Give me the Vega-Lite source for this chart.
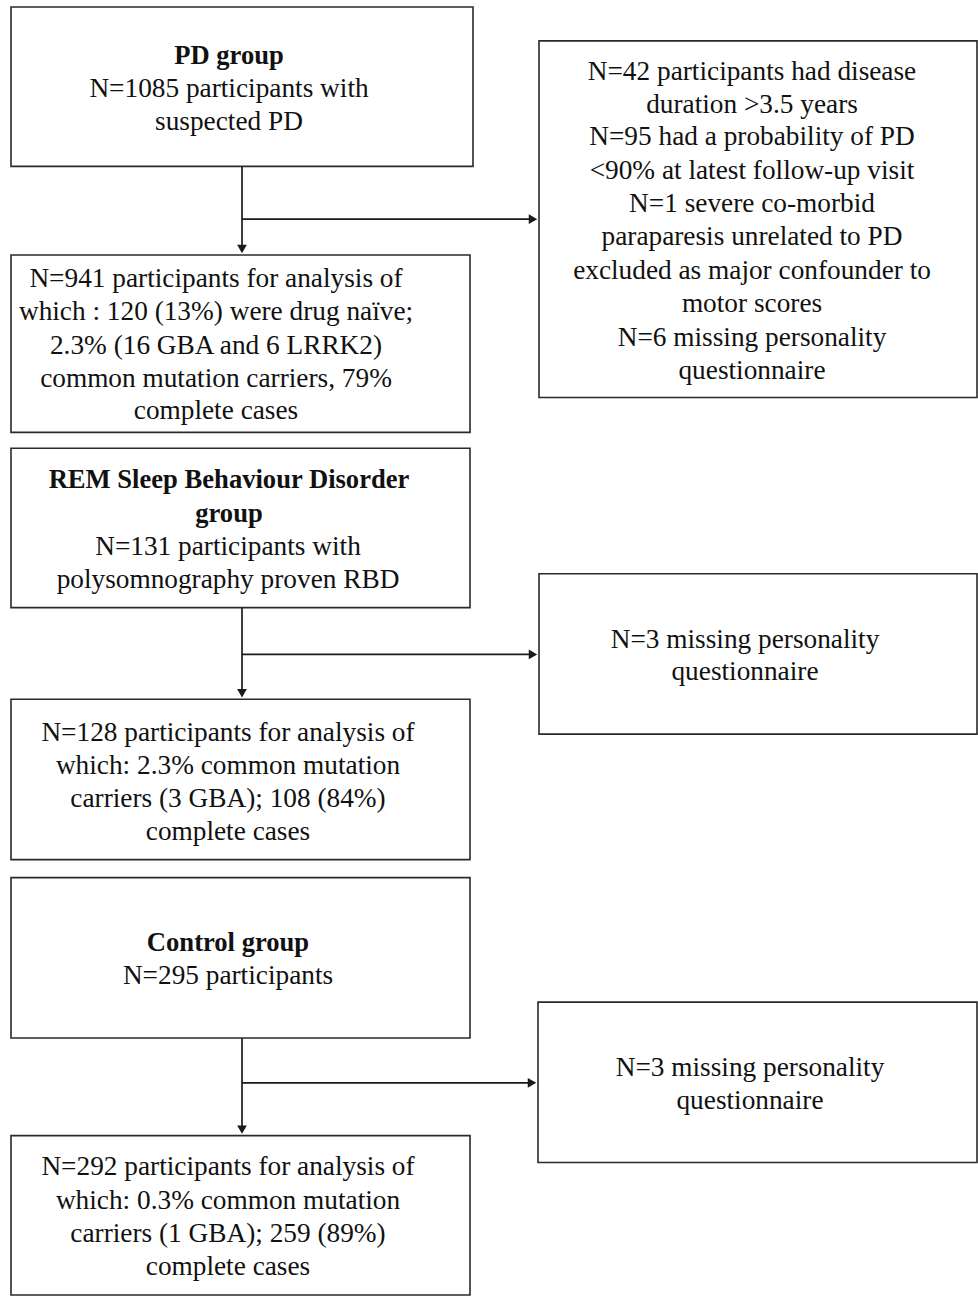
{
  "$schema": "https://vega.github.io/schema/vega-lite/v6.json",
  "width": 978,
  "height": 1296,
  "autosize": {"type": "fit", "contains": "padding"},
  "padding": 0,
  "background": "white",
  "config": {"view": {"stroke": null}},
  "datasets": {
    "boxes": [
      {"id": "pd", "x0": 11, "x1": 473, "y0": 7, "y1": 167},
      {"id": "pdx", "x0": 539, "x1": 977, "y0": 41, "y1": 399},
      {"id": "pda", "x0": 11, "x1": 470, "y0": 256, "y1": 434},
      {"id": "rbd", "x0": 11, "x1": 470, "y0": 450, "y1": 610},
      {"id": "rbdx", "x0": 539, "x1": 977, "y0": 576, "y1": 737},
      {"id": "rbda", "x0": 11, "x1": 470, "y0": 702, "y1": 863},
      {"id": "hc", "x0": 11, "x1": 470, "y0": 881, "y1": 1042},
      {"id": "hcx", "x0": 538, "x1": 977, "y0": 1006, "y1": 1167},
      {"id": "hca", "x0": 11, "x1": 470, "y0": 1140, "y1": 1300}
    ],
    "lines": [
      {"x0": 242, "x1": 242, "y0": 167, "y1": 248},
      {"x0": 242, "x1": 531, "y0": 220, "y1": 220},
      {"x0": 242, "x1": 242, "y0": 610, "y1": 694},
      {"x0": 242, "x1": 531, "y0": 657, "y1": 657},
      {"x0": 242, "x1": 242, "y0": 1042, "y1": 1132},
      {"x0": 242, "x1": 530, "y0": 1087, "y1": 1087}
    ],
    "heads": [
      {"dir": "down", "x": 242, "y": 250},
      {"dir": "right", "x": 533, "y": 220},
      {"dir": "down", "x": 242, "y": 696},
      {"dir": "right", "x": 533, "y": 657},
      {"dir": "down", "x": 242, "y": 1134},
      {"dir": "right", "x": 532, "y": 1087}
    ],
    "labels": [
      {"x": 229, "y": 56, "bold": true, "text": "PD group"},
      {"x": 229, "y": 89, "bold": false, "text": "N=1085 participants with"},
      {"x": 229, "y": 122, "bold": false, "text": "suspected PD"},
      {"x": 752, "y": 72, "bold": false, "text": "N=42 participants had disease"},
      {"x": 752, "y": 105, "bold": false, "text": "duration >3.5 years"},
      {"x": 752, "y": 138, "bold": false, "text": "N=95 had a probability of PD"},
      {"x": 752, "y": 172, "bold": false, "text": "<90% at latest follow-up visit"},
      {"x": 752, "y": 205, "bold": false, "text": "N=1 severe co-morbid"},
      {"x": 752, "y": 238, "bold": false, "text": "paraparesis unrelated to PD"},
      {"x": 752, "y": 272, "bold": false, "text": "excluded as major confounder to"},
      {"x": 752, "y": 305, "bold": false, "text": "motor scores"},
      {"x": 752, "y": 339, "bold": false, "text": "N=6 missing personality"},
      {"x": 752, "y": 372, "bold": false, "text": "questionnaire"},
      {"x": 216, "y": 280, "bold": false, "text": "N=941 participants for analysis of"},
      {"x": 216, "y": 313, "bold": false, "text": "which : 120 (13%) were drug naïve;"},
      {"x": 216, "y": 347, "bold": false, "text": "2.3% (16 GBA and 6 LRRK2)"},
      {"x": 216, "y": 380, "bold": false, "text": "common mutation carriers, 79%"},
      {"x": 216, "y": 413, "bold": false, "text": "complete cases"},
      {"x": 229, "y": 482, "bold": true, "text": "REM Sleep Behaviour Disorder"},
      {"x": 229, "y": 516, "bold": true, "text": "group"},
      {"x": 228, "y": 549, "bold": false, "text": "N=131 participants with"},
      {"x": 228, "y": 582, "bold": false, "text": "polysomnography proven RBD"},
      {"x": 745, "y": 642, "bold": false, "text": "N=3 missing personality"},
      {"x": 745, "y": 675, "bold": false, "text": "questionnaire"},
      {"x": 228, "y": 736, "bold": false, "text": "N=128 participants for analysis of"},
      {"x": 228, "y": 769, "bold": false, "text": "which: 2.3% common mutation"},
      {"x": 228, "y": 802, "bold": false, "text": "carriers (3 GBA); 108 (84%)"},
      {"x": 228, "y": 835, "bold": false, "text": "complete cases"},
      {"x": 228, "y": 947, "bold": true, "text": "Control group"},
      {"x": 228, "y": 980, "bold": false, "text": "N=295 participants"},
      {"x": 750, "y": 1072, "bold": false, "text": "N=3 missing personality"},
      {"x": 750, "y": 1105, "bold": false, "text": "questionnaire"},
      {"x": 228, "y": 1172, "bold": false, "text": "N=292 participants for analysis of"},
      {"x": 228, "y": 1206, "bold": false, "text": "which: 0.3% common mutation"},
      {"x": 228, "y": 1239, "bold": false, "text": "carriers (1 GBA); 259 (89%)"},
      {"x": 228, "y": 1272, "bold": false, "text": "complete cases"}
    ]
  },
  "layer": [
    {
      "data": {"name": "boxes"},
      "mark": {"type": "rect", "fill": "white", "stroke": "#2a2a2a", "strokeWidth": 1.6},
      "encoding": {
        "x": {"field": "x0", "type": "quantitative", "scale": {"domain": [0, 978], "nice": false, "zero": false}, "axis": null},
        "x2": {"field": "x1"},
        "y": {"field": "y0", "type": "quantitative", "scale": {"domain": [1296, 0], "nice": false, "zero": false}, "axis": null},
        "y2": {"field": "y1"}
      }
    },
    {
      "data": {"name": "lines"},
      "mark": {"type": "rule", "stroke": "#1a1a1a", "strokeWidth": 1.7},
      "encoding": {
        "x": {"field": "x0", "type": "quantitative"},
        "x2": {"field": "x1"},
        "y": {"field": "y0", "type": "quantitative"},
        "y2": {"field": "y1"}
      }
    },
    {
      "data": {"name": "heads"},
      "transform": [{"filter": "datum.dir === 'down'"}],
      "mark": {"type": "point", "shape": "triangle-down", "filled": true, "color": "#1a1a1a", "size": 95, "opacity": 1},
      "encoding": {
        "x": {"field": "x", "type": "quantitative"},
        "y": {"field": "y", "type": "quantitative"}
      }
    },
    {
      "data": {"name": "heads"},
      "transform": [{"filter": "datum.dir === 'right'"}],
      "mark": {"type": "point", "shape": "triangle-right", "filled": true, "color": "#1a1a1a", "size": 95, "opacity": 1},
      "encoding": {
        "x": {"field": "x", "type": "quantitative"},
        "y": {"field": "y", "type": "quantitative"}
      }
    },
    {
      "data": {"name": "labels"},
      "transform": [{"filter": "!datum.bold"}],
      "mark": {"type": "text", "font": "Liberation Serif", "fontSize": 27.3, "color": "#111", "align": "center", "baseline": "middle"},
      "encoding": {
        "x": {"field": "x", "type": "quantitative"},
        "y": {"field": "y", "type": "quantitative"},
        "text": {"field": "text"}
      }
    },
    {
      "data": {"name": "labels"},
      "transform": [{"filter": "datum.bold"}],
      "mark": {"type": "text", "font": "Liberation Serif", "fontSize": 26.6, "fontWeight": "bold", "color": "#111", "align": "center", "baseline": "middle"},
      "encoding": {
        "x": {"field": "x", "type": "quantitative"},
        "y": {"field": "y", "type": "quantitative"},
        "text": {"field": "text"}
      }
    }
  ]
}
